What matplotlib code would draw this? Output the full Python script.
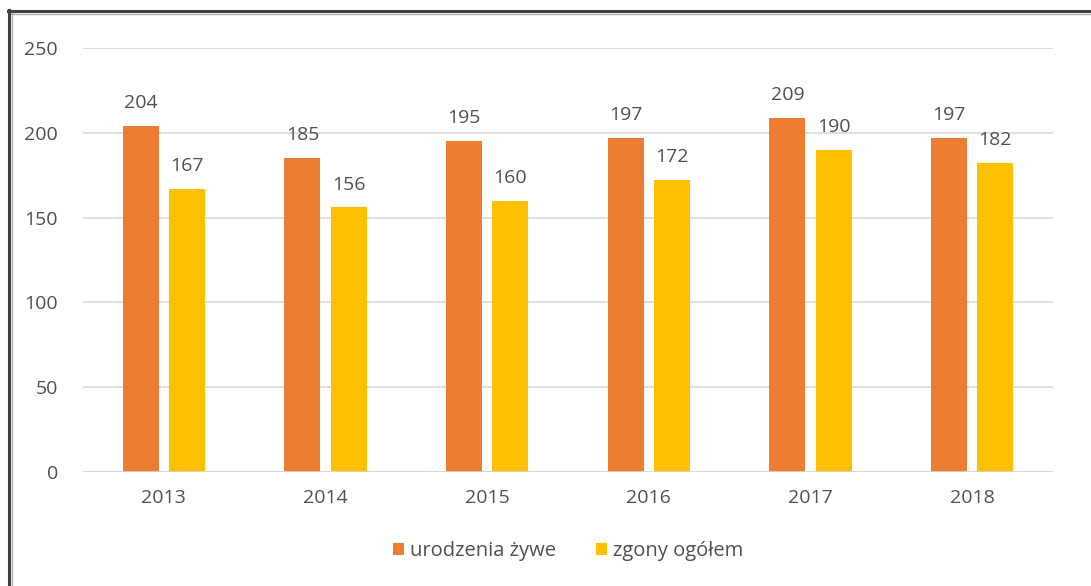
import matplotlib.pyplot as plt
import numpy as np
from matplotlib.lines import Line2D

years = ['2013', '2014', '2015', '2016', '2017', '2018']
births = [204, 185, 195, 197, 209, 197]
deaths = [167, 156, 160, 172, 190, 182]

orange = '#ED7D31'
yellow = '#FFC000'
txt = '#505050'

plt.rcParams['font.family'] = ['Open Sans', 'DejaVu Sans']

W, H = 1091, 586
fig = plt.figure(figsize=(W / 100, H / 100), dpi=100)
ax = fig.add_axes([83 / W, 1 - 472 / H, (1053 - 83) / W, (472 - 48) / H])

x = np.arange(len(years))
bw = 0.223
gap = 0.062
b1 = ax.bar(x - (bw + gap) / 2, births, bw, color=orange, label='urodzenia żywe', zorder=3)
b2 = ax.bar(x + (bw + gap) / 2, deaths, bw, color=yellow, label='zgony ogółem', zorder=3)

for bars in (b1, b2):
    for r in bars:
        ax.annotate(f'{int(r.get_height())}', (r.get_x() + r.get_width() / 2, r.get_height()),
                    xytext=(0, 10), textcoords='offset points', ha='center', va='bottom',
                    fontsize=14, color=txt)

ax.set_xlim(-0.5, len(years) - 0.5)
ax.set_ylim(0, 250)
ax.set_yticks(range(0, 251, 50))
ax.set_xticks(x)
ax.set_xticklabels(years)
ax.tick_params(length=0, labelsize=14, labelcolor=txt)
ax.tick_params(axis='y', pad=18)
ax.tick_params(axis='x', pad=12)
ax.grid(axis='y', color='#D9D9D9', lw=1.2, zorder=0)
for s in ax.spines.values():
    s.set_visible(False)
ax.axhline(0, color='#D0D8D8', lw=1.2, zorder=4)

ax.legend(loc='upper center', bbox_to_anchor=(0.5, -0.12), ncol=2, frameon=False,
          fontsize=14.5, labelcolor=txt, handlelength=0.55, handleheight=0.55,
          handletextpad=0.3, columnspacing=2.0)

# frame around the chart (top and left only, cropped image)
fig.add_artist(Line2D([8 / W, 1], [1 - 11 / H, 1 - 11 / H], color='#404040', lw=2.2))
fig.add_artist(Line2D([11 / W, 1], [1 - 14 / H, 1 - 14 / H], color='#B0B0B0', lw=1))
fig.add_artist(Line2D([9 / W, 9 / W], [0, 1 - 10 / H], color='#404040', lw=2.2))
fig.add_artist(Line2D([12 / W, 12 / W], [0, 1 - 13 / H], color='#B0B0B0', lw=1))

fig.savefig('out.png', dpi=100)
